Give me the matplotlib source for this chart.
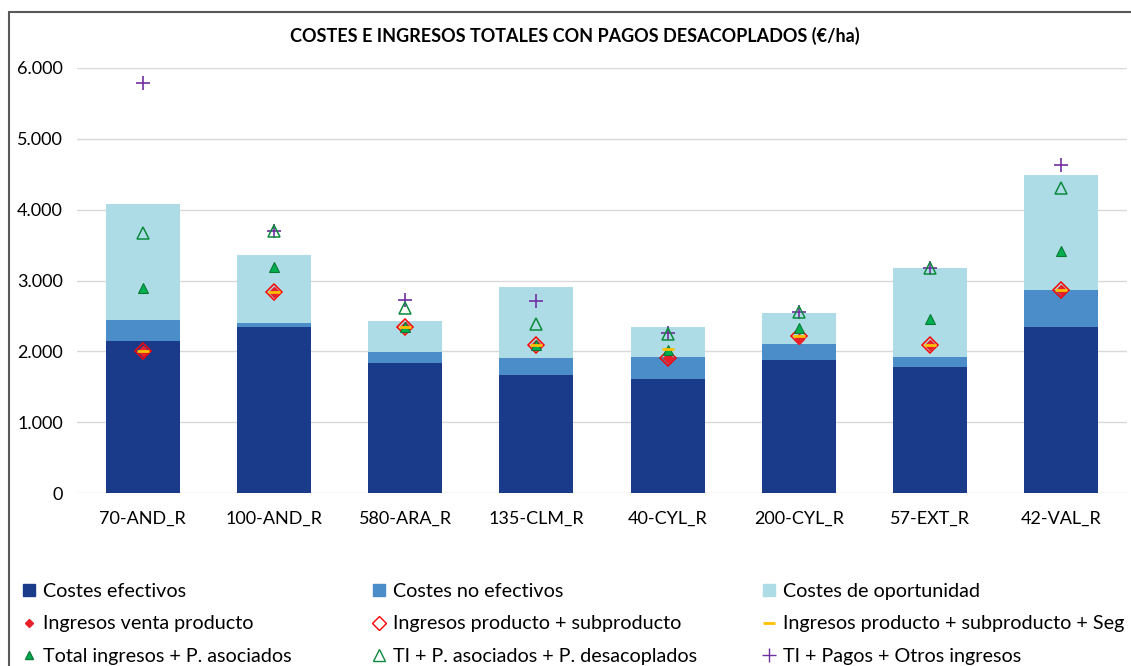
import numpy as np
import matplotlib.pyplot as plt
from matplotlib.patches import Patch, Rectangle
from matplotlib.lines import Line2D
from matplotlib.ticker import FuncFormatter

# Datos (EUR/ha)
categorias = ['70-AND_R', '100-AND_R', '580-ARA_R', '135-CLM_R',
              '40-CYL_R', '200-CYL_R', '57-EXT_R', '42-VAL_R']

costes_efectivos = [2150, 2340, 1835, 1670, 1610, 1880, 1780, 2345]
costes_no_efectivos = [290, 60, 160, 240, 310, 220, 140, 525]
costes_oportunidad = [1640, 960, 435, 1000, 420, 440, 1260, 1620]

ingresos_venta = [2000, 2840, 2340, 2090, 1910, 2180, 2090, 2870]
ingresos_prod_sub = [2000, 2840, 2340, 2090, 1910, 2210, 2090, 2870]
ingresos_prod_sub_seg = [2000, 2840, 2340, 2090, 2030, 2220, 2090, 2870]
total_p_asociados = [2890, 3190, 2340, 2090, 2020, 2330, 2460, 3420]
ti_p_desacoplados = [3670, 3700, 2610, 2390, 2245, 2550, 3170, 4310]
ti_otros_ingresos = [5790, 3700, 2720, 2710, 2260, 2560, 3170, 4630]

plt.rcParams['font.family'] = ['Lato', 'DejaVu Sans']

c_ef = '#1A3A8A'
c_noef = '#4A8DC8'
c_op = '#ADDCE6'

fig = plt.figure(figsize=(11.31, 6.66), dpi=100)
ax = fig.add_axes([77 / 1131, 1 - 493 / 666, 1050 / 1131, 425 / 666])

x = np.arange(len(categorias))
w = 0.565
base2 = np.array(costes_efectivos)
base3 = base2 + np.array(costes_no_efectivos)
ax.bar(x, costes_efectivos, w, color=c_ef, zorder=2)
ax.bar(x, costes_no_efectivos, w, bottom=base2, color=c_noef, zorder=2)
ax.bar(x, costes_oportunidad, w, bottom=base3, color=c_op, zorder=2)

# Marcadores de ingresos
ax.plot(x, ti_otros_ingresos, ls='none', marker='+', ms=10, mew=1.2, color='#7030A0', zorder=3)
ax.plot(x, ti_p_desacoplados, ls='none', marker='^', ms=9, mfc='none', mec='#0B8A3C', mew=1.1, zorder=4)
ax.plot(x, total_p_asociados, ls='none', marker='^', ms=7, color='#00B050', mec='#0B7A35', mew=0.8, zorder=5)
ax.plot(x, ingresos_prod_sub, ls='none', marker='D', ms=8, mfc='none', mec='#FF0000', mew=1.1, zorder=4)
ax.plot(x, ingresos_venta, ls='none', marker='D', ms=5, color='#E8202A', zorder=4)
ax.plot(x, ingresos_prod_sub_seg, ls='none', marker='_', ms=8, mew=2, color='#FFC000', zorder=5)

ax.set_xlim(-0.5, 7.5)
ax.set_ylim(0, 6000)
ax.set_yticks(np.arange(0, 6001, 1000))
ax.yaxis.set_major_formatter(FuncFormatter(lambda v, p: f'{int(v):,}'.replace(',', '.')))
ax.set_xticks(x)
ax.set_xticklabels(categorias)
ax.grid(axis='y', color='#D9D9D9', lw=1, zorder=0)
ax.tick_params(length=0, labelsize=13, colors='black')
ax.tick_params(axis='x', pad=13)
ax.tick_params(axis='y', pad=10)
for s in ax.spines.values():
    s.set_visible(False)

fig.text(575 / 1131, 1 - 36 / 666, 'COSTES E INGRESOS TOTALES CON PAGOS DESACOPLADOS (€/ha)',
         ha='center', va='center', fontsize=13, fontweight='bold')

# Marco exterior
fig.patches.append(Rectangle((9 / 1131, -0.1), 1.2, 1 - 12 / 666 + 0.1, transform=fig.transFigure,
                             fill=False, ec='#595959', lw=1.5))

# Leyenda en tres columnas
col1 = [Patch(color=c_ef, label='Costes efectivos'),
        Line2D([], [], ls='none', marker='D', ms=4, color='#E8202A', label='Ingresos venta producto'),
        Line2D([], [], ls='none', marker='^', ms=6, color='#00B050', mec='#0B7A35', label='Total ingresos + P. asociados')]
col2 = [Patch(color=c_noef, label='Costes no efectivos'),
        Line2D([], [], ls='none', marker='D', ms=7, mfc='none', mec='#FF0000', label='Ingresos producto + subproducto'),
        Line2D([], [], ls='none', marker='^', ms=8, mfc='none', mec='#0B8A3C', label='TI + P. asociados + P. desacoplados')]
col3 = [Patch(color=c_op, label='Costes de oportunidad'),
        Line2D([], [], ls='none', marker='_', ms=8, mew=2, color='#FFC000', label='Ingresos producto + subproducto + Seg'),
        Line2D([], [], ls='none', marker='+', ms=10, color='#7030A0', label='TI + Pagos + Otros ingresos')]

for hs, xpos in [(col1, 15), (col2, 365), (col3, 755)]:
    fig.legend(handles=hs, loc='upper left', bbox_to_anchor=(xpos / 1131, 1 - 575 / 666),
               frameon=False, fontsize=14.2, handlelength=0.6, handleheight=0.6,
               handletextpad=0.4, labelspacing=0.78, borderaxespad=0)

fig.savefig('out.png', dpi=100)
